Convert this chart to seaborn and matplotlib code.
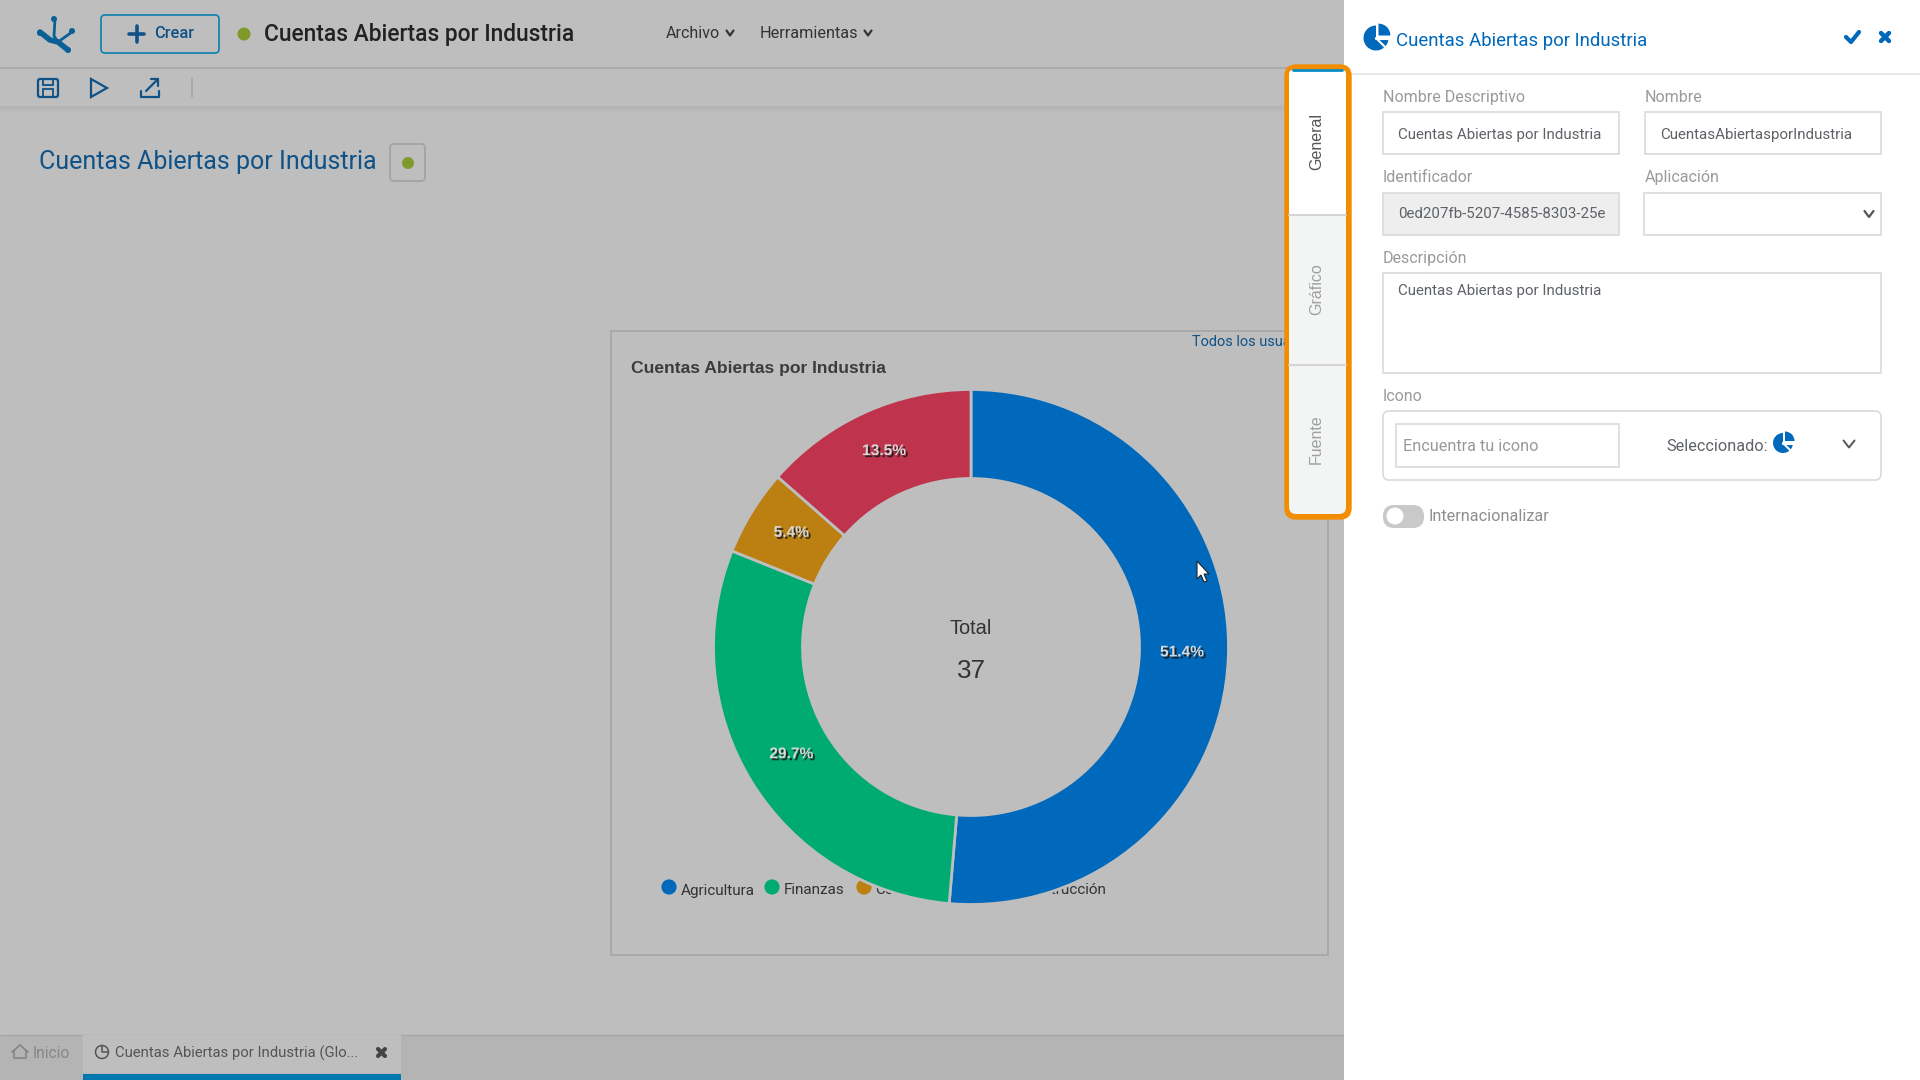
"""
Screen capture of the chart editor: donut of open accounts by industry,
with the properties panel open on the right.
"""
import matplotlib
matplotlib.use("Agg")
import matplotlib.pyplot as plt
import matplotlib.patheffects as pe
from matplotlib.patches import Circle, FancyBboxPatch, Polygon, Rectangle, Wedge
import seaborn as sns


TITLE = "Cuentas Abiertas por Industria"
INDUSTRIES = ["Agricultura", "Finanzas", "Comercio", "Construcción"]
ACCOUNTS = [19, 11, 2, 5]
SLICE_COLORS = ["#0069BC", "#00AB72", "#BC8012", "#BF334C"]
TOTAL_LABEL = "Total"

GREY = "#BEBEBE"
BLUE = "#0069BC"
DARK_BLUE = "#0F5288"
LABEL = "#9A9A9A"
FIELD_TEXT = "#5F6368"
BORDER = "#DADADA"
ORANGE = "#F28C00"


def px(size):
    """Font size in points from a size in screen pixels (dpi 100)."""
    return size * 0.72


def box(ax, x0, y0, x1, y1, face="white", edge=BORDER, lw=1.2, z=2, r=0):
    if r:
        patch = FancyBboxPatch((x0 + r, y0 + r), x1 - x0 - 2 * r, y1 - y0 - 2 * r,
                               boxstyle=f"round,pad={r},rounding_size={r}",
                               fc=face, ec=edge, lw=lw, zorder=z)
    else:
        patch = Rectangle((x0, y0), x1 - x0, y1 - y0, fc=face, ec=edge, lw=lw, zorder=z)
    ax.add_patch(patch)


def label(ax, x, y, s, size=15, color=LABEL, z=12, **kw):
    kw.setdefault("va", "center")
    kw.setdefault("ha", "left")
    ax.text(x, y + 1.5, s, fontsize=px(size), color=color, zorder=z, **kw)


def polyline(ax, xs, ys, color, lw=2, z=12):
    ax.plot(xs, ys, color=color, lw=lw, zorder=z, solid_capstyle="round",
            solid_joinstyle="round")


def chevron(ax, x, y, w, h, color, lw=1.6, z=12):
    polyline(ax, [x - w, x, x + w], [y - h, y + h, y - h], color, lw, z)


def pie_icon(ax, x, y, r, color=BLUE, z=12):
    # y axis is inverted, so angles run clockwise on screen
    ax.add_patch(Wedge((x, y), r, 0, 270, fc=color, ec="none", zorder=z))
    ax.add_patch(Wedge((x + r * 0.2, y - r * 0.2), r * 0.95, 270, 360, fc=color, ec="none", zorder=z))
    polyline(ax, [x, x + r], [y + r * 0.05, y + r * 0.05], "white", 1.5, z + 1)
    polyline(ax, [x, x + r * 0.75], [y, y + r * 0.75], "white", 1.5, z + 1)


def draw_top_bar(ax):
    ax.plot([0, 1345], [68, 68], color="#A9A9A9", lw=1.2, zorder=2)
    for i in range(6):
        ax.plot([0, 1345], [106 + i, 106 + i], color="#9A9A9A", lw=1,
                alpha=0.22 - i * 0.035, zorder=2)

    # logo
    logo = "#0A5F96"
    polyline(ax, [55, 54, 58, 72], [19, 36, 42, 32], logo, 2)
    polyline(ax, [40, 50, 58, 68], [32, 40, 42, 50], logo, 4)
    for cx, cy, r in [(54, 19, 3), (72, 31, 3), (40, 33, 3), (68, 50, 3)]:
        ax.add_patch(Circle((cx, cy), r, fc=logo, ec="none", zorder=3))

    box(ax, 101, 15, 219, 53, face=GREY, edge="#0B7FAE", lw=1.2, r=4)
    polyline(ax, [129, 144], [34, 34], DARK_BLUE, 2.6)
    polyline(ax, [137, 137], [26, 42], DARK_BLUE, 2.6)
    label(ax, 154, 32.5, "Crear", 16.5, DARK_BLUE, weight="medium")

    ax.add_patch(Circle((244, 34), 6.5, fc="#7F9A2B", ec="none", zorder=3))
    label(ax, 264, 32.5, TITLE, 22.7, "#222222", weight="medium")
    label(ax, 666, 32.5, "Archivo", 16, "#333333")
    chevron(ax, 730, 33, 3.5, 2.5, "#333333")
    label(ax, 760, 32.5, "Herramientas", 16.2, "#333333")
    chevron(ax, 868, 33, 3.5, 2.5, "#333333")

    # save, run, export icons
    box(ax, 38, 79, 58, 97, face="none", edge=DARK_BLUE, lw=1.6, z=3, r=2)
    box(ax, 43, 79, 53, 85, face="none", edge=DARK_BLUE, lw=1.3, z=3)
    box(ax, 43, 89, 53, 97, face="none", edge=DARK_BLUE, lw=1.3, z=3)
    ax.add_patch(Polygon([(91, 79), (107, 88), (91, 97)], closed=True, fc="none",
                         ec=DARK_BLUE, lw=1.6, zorder=3))
    polyline(ax, [141, 141, 159, 159], [91, 97, 97, 91], DARK_BLUE, 1.6)
    polyline(ax, [146, 158], [91, 79], DARK_BLUE, 1.6)
    polyline(ax, [151, 158, 158], [79, 79, 86], DARK_BLUE, 1.6)
    ax.plot([192, 192], [78, 97], color="#A5A5A5", lw=1.2, zorder=3)

    label(ax, 39, 160, TITLE, 25, DARK_BLUE)
    box(ax, 390, 144, 425, 181, face=GREY, edge="#A5A5A5", lw=1.4, r=4)
    ax.add_patch(Circle((408, 163), 6, fc="#7F9A2B", ec="none", zorder=3))


def draw_chart_card(ax):
    box(ax, 611, 331, 1328, 955, face=GREY, edge="#A5A5A5", lw=1.2, z=1)
    ax.text(631, 368.5, TITLE, fontsize=px(17.5), color="#3C3C3C", weight="bold",
            family="Liberation Sans", va="center", zorder=3)
    label(ax, 1192, 341, "Todos los usuarios", 14.5, DARK_BLUE, z=3)

    colors = sns.color_palette(SLICE_COLORS)
    _, _, pct_texts = ax.pie(ACCOUNTS, colors=colors, center=(971, 647), radius=257.5,
                             startangle=270, counterclock=True, frame=True,
                             autopct="%.1f%%", pctdistance=0.82,
                             wedgeprops={"width": 89, "edgecolor": GREY, "linewidth": 2,
                                         "zorder": 5})
    for t in pct_texts:
        t.set(color="#D8D8D8", fontsize=px(15.5), weight="bold", family="Liberation Sans",
              zorder=6, y=t.get_position()[1] - 4)
        t.set_path_effects([pe.withSimplePatchShadow(offset=(1.5, -1.5), shadow_rgbFace="#1A1A1A",
                                                     alpha=0.85)])

    label(ax, 971, 627, TOTAL_LABEL, 20, "#333333", z=6, ha="center", family="Liberation Sans")
    label(ax, 971, 670, str(sum(ACCOUNTS)), 26, "#333333", z=6, ha="center",
          family="Liberation Sans")

    # legend sits under the donut, as in the original
    dots = [669, 772, 864, 1005]
    sns.scatterplot(x=dots, y=[887] * 4, hue=INDUSTRIES, palette=colors, s=120, legend=False,
                    linewidth=0, ax=ax, zorder=4)
    for x, name in zip(dots, INDUSTRIES):
        label(ax, x + 11.5, 889, name, 15.2, "#333333", z=4)


def draw_tabs(ax):
    box(ax, 1285, 65, 1351, 519, face=ORANGE, edge=ORANGE, lw=1, z=9, r=11)
    box(ax, 1289, 70, 1346, 514, face="#F3F4F4", edge="none", lw=0, z=10, r=7)
    box(ax, 1289, 70, 1346, 215, face="white", edge="none", lw=0, z=10, r=4)
    ax.plot([1293, 1342], [70, 70], color="#0B8FC7", lw=2, zorder=11)
    ax.plot([1289, 1346], [215, 215], color="#D5D5D5", lw=1.5, zorder=11)
    ax.plot([1289, 1346], [365, 365], color="#D5D5D5", lw=1.5, zorder=11)
    for y, name, color in [(142, "General", "#555555"), (289, "Gráfico", "#A0A0A0"),
                           (439, "Fuente", "#A0A0A0")]:
        ax.text(1316.5, y, name, fontsize=px(16), color=color, rotation=90, ha="center",
                va="center", family="Liberation Sans", zorder=12)


def draw_panel(ax):
    ax.add_patch(Rectangle((1344, 0), 576, 1080, fc="white", ec="none", zorder=8))
    ax.plot([1344, 1920], [74, 74], color="#E3E3E3", lw=1.2, zorder=9)

    pie_icon(ax, 1376, 38, 12.5)
    label(ax, 1396, 40, TITLE, 18.7, BLUE)
    polyline(ax, [1846, 1851, 1859], [37, 42, 32], BLUE, 3)
    polyline(ax, [1881, 1889], [33, 41], BLUE, 3.2)
    polyline(ax, [1889, 1881], [33, 41], BLUE, 3.2)

    for x, y, s in [(1383, 96, "Nombre Descriptivo"), (1645, 96, "Nombre"),
                    (1383, 176, "Identificador"), (1645, 176, "Aplicación"),
                    (1383, 257, "Descripción"), (1383, 395, "Icono")]:
        label(ax, x, y, s, 16)

    box(ax, 1383, 112, 1619, 154, z=9)
    box(ax, 1645, 112, 1881, 154, z=9)
    box(ax, 1383, 193, 1619, 235, face="#EEEEEE", z=9)
    box(ax, 1644, 193, 1881, 235, z=9)
    box(ax, 1383, 273, 1881, 373, z=9)
    box(ax, 1383, 411, 1881, 480, z=9, r=6)
    box(ax, 1396, 424, 1619, 467, z=9)

    label(ax, 1398, 133, TITLE, 15.1, FIELD_TEXT)
    label(ax, 1660, 133, "CuentasAbiertasporIndustria", 15.1, FIELD_TEXT)
    label(ax, 1398, 213, "0ed207fb-5207-4585-8303-25e", 15, FIELD_TEXT)
    label(ax, 1398, 290, TITLE, 15.1, FIELD_TEXT)
    chevron(ax, 1869, 214, 4.5, 3, "#555555")

    label(ax, 1403, 445, "Encuentra tu icono", 16.2, "#999999")
    label(ax, 1666, 445, "Seleccionado:", 16.2, FIELD_TEXT)
    pie_icon(ax, 1783, 443, 10)
    chevron(ax, 1849, 444, 5.5, 3.5, "#555555", 1.4)

    box(ax, 1383, 505, 1424, 528, face="#C9C9C9", edge="none", lw=0, z=9, r=11)
    ax.add_patch(Circle((1395, 516), 8.5, fc="white", ec="none", zorder=10))
    label(ax, 1429, 515, "Internacionalizar", 16.3, "#8E8E8E")


def draw_bottom_tabs(ax):
    ax.add_patch(Rectangle((0, 1035), 1345, 45, fc="#B4B4B4", ec="none", zorder=1))
    ax.plot([0, 1345], [1035, 1035], color="#A8A8A8", lw=1, zorder=2)
    ax.add_patch(Rectangle((83, 1035), 318, 38, fc=GREY, ec="none", zorder=3))
    ax.add_patch(Rectangle((83, 1074), 318, 6, fc="#0079AE", ec="none", zorder=3))
    polyline(ax, [14, 14, 26, 26], [1050, 1058, 1058, 1050], "#858585", 1.2, 4)
    polyline(ax, [12, 20, 28], [1052, 1045, 1052], "#858585", 1.2, 4)
    label(ax, 33, 1052, "Inicio", 15.5, "#878787", z=4)
    ax.add_patch(Circle((102, 1052), 6.5, fc="none", ec="#555555", lw=1.1, zorder=4))
    polyline(ax, [102, 102, 108], [1046, 1052, 1052], "#555555", 1.1, 4)
    label(ax, 115, 1052, "Cuentas Abiertas por Industria (Glo...", 14.9, "#555555", z=4)
    polyline(ax, [378, 385], [1049, 1056], "#444444", 3, 4)
    polyline(ax, [385, 378], [1049, 1056], "#444444", 3, 4)


def draw_cursor(ax):
    shape = [(1197, 561), (1197, 579), (1201, 575), (1204, 582), (1207, 581), (1204, 574),
             (1209, 574)]
    ax.add_patch(Polygon(shape, closed=True, fc="white", ec="#222222", lw=0.8, zorder=7))


def main():
    sns.set_theme(style="white")
    plt.rcParams["font.family"] = ["Roboto", "DejaVu Sans"]

    fig = plt.figure(figsize=(19.2, 10.8), dpi=100, facecolor=GREY)
    ax = fig.add_axes([0, 0, 1, 1])
    ax.set_facecolor(GREY)

    draw_top_bar(ax)
    draw_bottom_tabs(ax)
    draw_chart_card(ax)
    draw_cursor(ax)
    draw_panel(ax)
    draw_tabs(ax)

    # pixel coordinates, origin top left
    ax.set_xlim(0, 1920)
    ax.set_ylim(1080, 0)
    ax.set_aspect("auto")
    ax.axis("off")

    fig.savefig("out.png", dpi=100, facecolor=GREY)


if __name__ == "__main__":
    main()
